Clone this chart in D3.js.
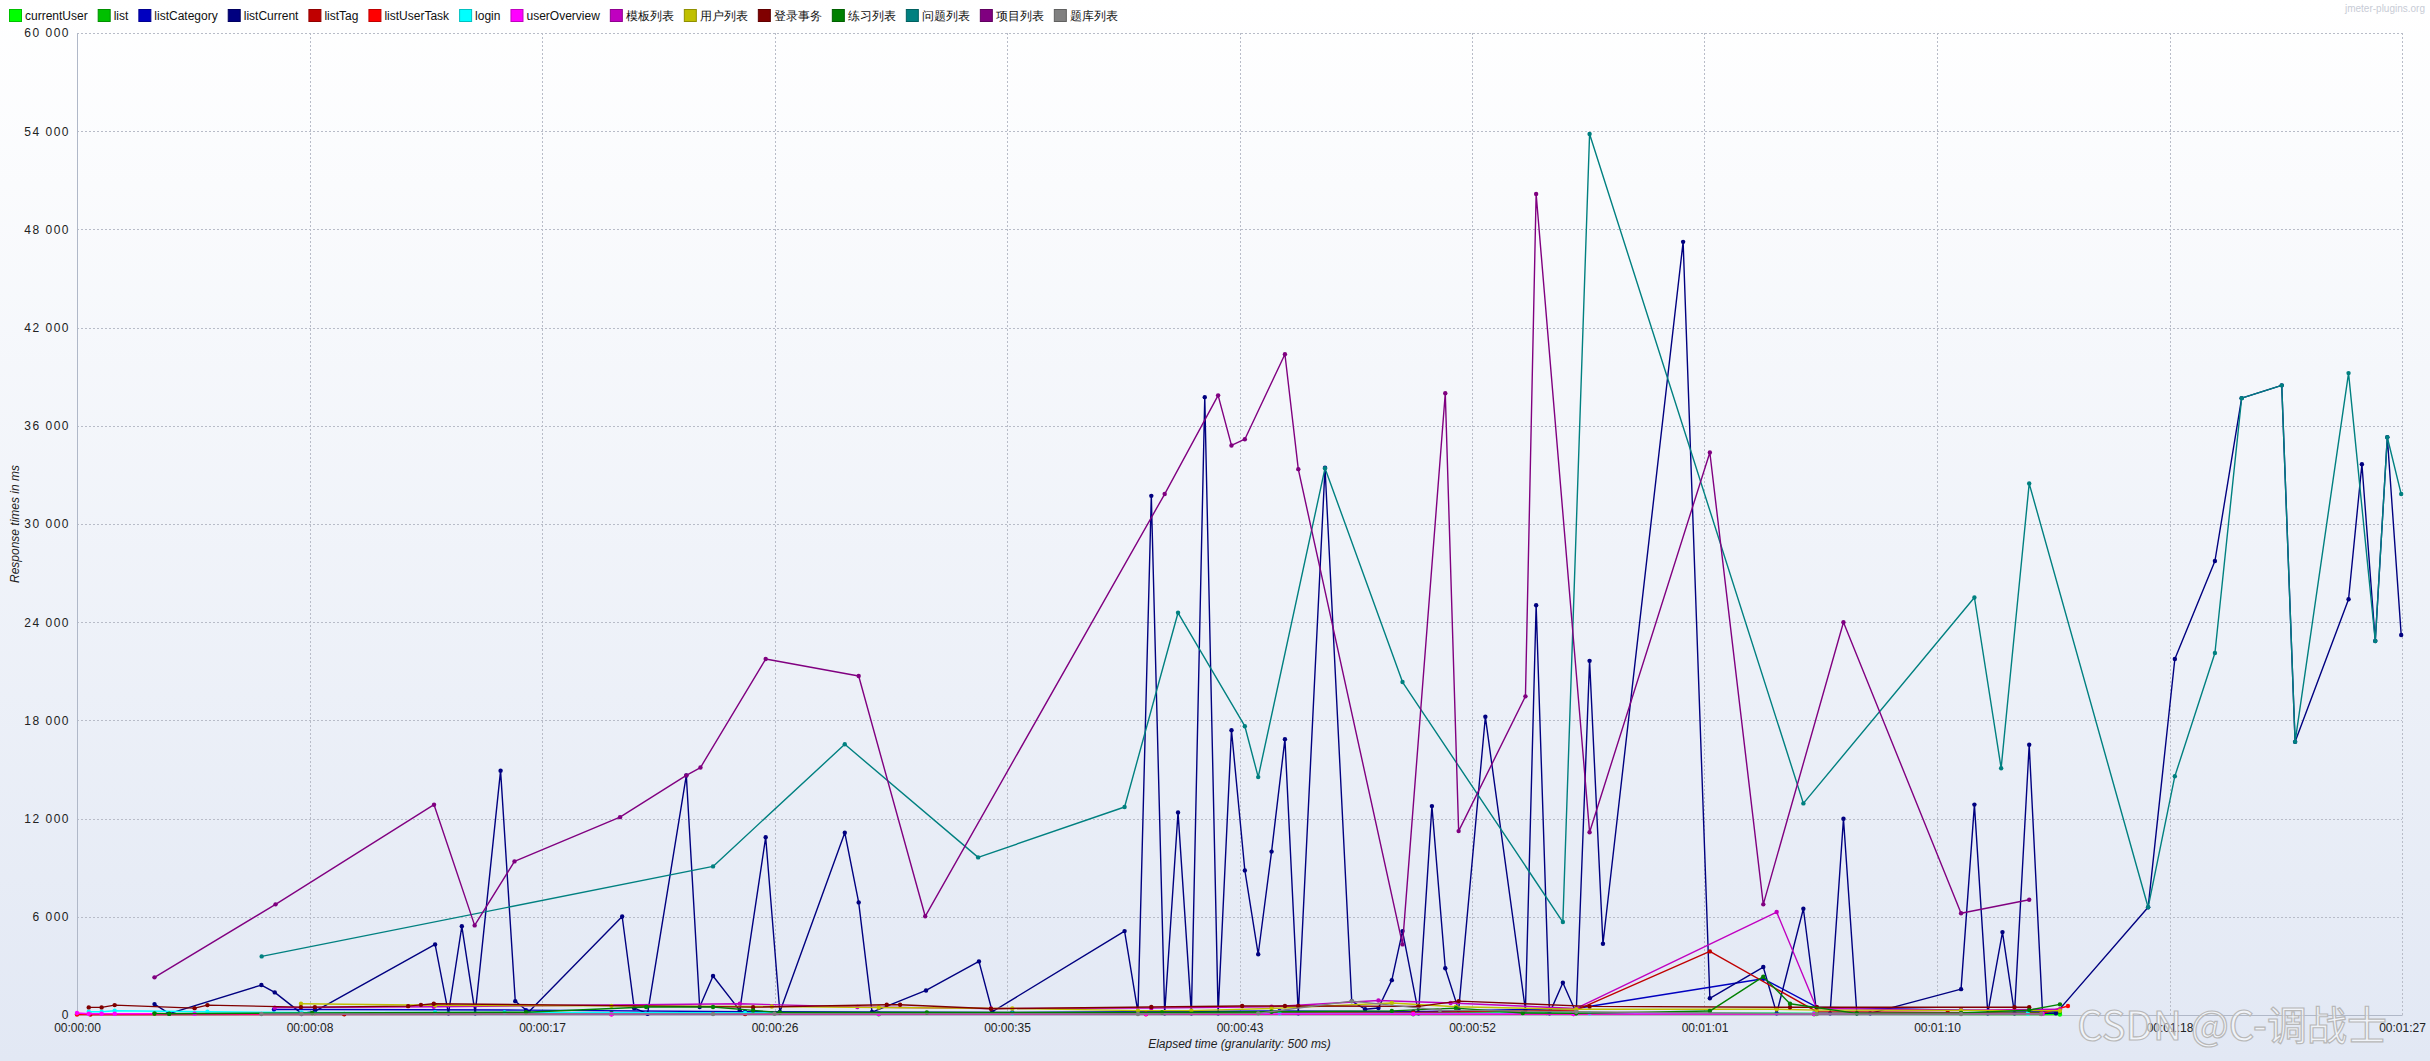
<!DOCTYPE html>
<html><head><meta charset="utf-8">
<script src="https://cdn.jsdelivr.net/npm/d3@7"></script>
<style>body{margin:0;overflow:hidden;background:#fff} svg{display:block}</style>
</head><body><svg id="c" width="2430" height="1061"></svg>
<script>
// ---------- DATA (time in seconds, response time in ms) ----------
const seriesNames = ["currentUser","list","listCategory","listCurrent","listTag","listUserTask","login","userOverview","模板列表","用户列表","登录事务","练习列表","问题列表","项目列表","题库列表"];
const seriesColors = ["#00FF00","#00C000","#0000C0","#000080","#C00000","#FF0000","#00FFFF","#FF00FF","#C000C0","#C0C000","#800000","#008000","#008080","#800080","#808080"];

const currentUser = [[0,60],[10,60],[30,50],[50,50],[65,50],[74.2,30]];
const list = [[2.9,80],[8.9,120],[20,140],[30,100],[45,150],[55,120],[65,100],[74.2,180]];
const listCategory = [[7.37,340],[8.9,340],[16.8,300],[25,200],[35,150],[45,250],[50,200],[56.1,400],[63.1,2215],[65.1,480],[70.5,300],[74.05,200]];
const listCurrent = [[2.9,666],[3.45,80],[6.9,1830],[7.4,1380],[8.4,100],[8.9,220],[13.4,4315],[13.9,100],[14.4,5420],[14.9,100],[15.85,14930],[16.4,845],[16.9,180],[20.4,6020],[20.85,420],[21.35,80],[22.8,14640],[23.3,485],[23.8,2380],[24.8,280],[25.77,10860],[26.3,180],[28.73,11140],[29.25,6880],[29.75,180],[31.77,1500],[33.75,3275],[34.25,200],[39.2,5126],[39.7,160],[40.2,31720],[40.7,100],[41.2,12380],[41.7,100],[42.2,37750],[42.7,100],[43.2,17400],[43.7,8835],[44.2,3710],[44.7,9985],[45.2,16855],[45.7,100],[46.7,33440],[47.7,845],[48.2,350],[48.7,430],[49.2,2130],[49.6,5126],[50.2,100],[50.7,12765],[51.2,2860],[51.7,300],[52.7,18220],[54.2,300],[54.6,25040],[55.1,100],[55.6,1970],[56.1,120],[56.6,21640],[57.1,4355],[60.1,47240],[61.1,1020],[63.1,2930],[63.6,100],[64.6,6490],[65.1,100],[65.6,100],[66.1,11990],[66.6,100],[67.1,100],[70.5,1580],[71.0,12855],[71.5,100],[72.05,5065],[72.5,100],[73.05,16510],[73.55,100],[74.05,100],[77.5,6580],[78.5,21750],[80.0,27740],[81.0,37690],[82.5,38470],[83.0,16690],[85.0,25400],[85.5,33650],[86.0,22850],[86.45,35300],[86.97,23220]];
const listTag = [[0.5,30],[10,40],[25,60],[40,100],[50,150],[56.1,300],[61.1,3885],[65.1,200],[70,150],[73.5,100]];
const listUserTask = [[0,30],[20,40],[40,50],[56,60],[65,80],[73.5,80],[74.5,550]];
const login = [[0.44,200],[0.92,200],[1.41,260],[4.88,200],[8.4,150],[13.4,150],[16,150],[25,120],[35,100],[45,100],[56.6,100],[65,90],[73,90]];
const userOverview = [[0,120],[0.44,80],[0.92,80],[1.41,80],[4.4,80],[8.4,60],[20,50],[30,60],[40,60],[50,60],[56,60],[65,60],[73.55,80]];
const templateList = [[7.4,450],[13.35,500],[24.8,690],[29.2,490],[34.2,400],[40.2,420],[44.7,500],[48.7,890],[51.4,730],[56.1,400],[63.6,6290],[65.1,400],[70.5,300],[74.2,350]];
const userList = [[8.38,690],[13.4,600],[20,560],[26,520],[30,460],[35,400],[39.7,270],[41.7,270],[44.7,400],[49.2,730],[51.6,500],[56.1,350],[63.6,350],[65.1,300],[70.5,280],[74.2,260]];
const loginTxn = [[0.44,465],[0.92,465],[1.41,605],[4.4,420],[4.88,605],[8.38,480],[8.9,480],[12.39,540],[12.87,620],[13.35,690],[25.3,480],[30.3,630],[30.8,630],[34.2,385],[40.2,490],[43.6,550],[45.2,550],[45.7,550],[50.2,530],[51.7,850],[56.6,525],[64.1,470],[65.1,470],[72.5,470],[73.05,470]];
const practiceList = [[2.9,100],[3.45,80],[8.8,120],[16.8,170],[21.3,490],[23.8,490],[25.3,280],[26.3,150],[31.8,150],[40.6,150],[44.7,200],[49.2,250],[51.6,420],[54.1,120],[56.1,100],[61.1,240],[63.1,2340],[64.1,690],[66.6,100],[70.5,120],[73.05,300],[74.2,650]];
const questionList = [[6.91,3580],[23.8,9080],[28.73,16540],[33.72,9630],[39.2,12710],[41.2,24575],[43.7,17645],[44.2,14535],[46.7,33410],[49.6,20345],[55.6,5680],[56.6,53830],[64.6,12930],[71.0,25510],[72.0,15080],[73.05,32470],[77.5,6580],[78.5,14590],[80.0,22120],[81.0,37690],[82.5,38470],[83.0,16690],[85.0,39220],[86.0,22850],[86.45,35300],[86.97,31830]];
const projectList = [[2.9,2300],[7.43,6760],[13.36,12850],[14.88,5475],[16.37,9385],[20.32,12090],[22.8,14640],[23.33,15120],[25.77,21750],[29.25,20710],[31.74,6030],[40.7,31830],[42.7,37860],[43.2,34800],[43.7,35180],[45.2,40370],[45.7,33350],[49.6,4315],[51.2,37990],[51.7,11235],[54.2,19470],[54.6,50160],[56.6,11170],[61.1,34370],[63.1,6760],[66.1,24000],[70.5,6220],[73.05,7045]];
const bankList = [[6.9,60],[8.4,60],[23.8,60],[26.1,80],[39.7,60],[44.2,100],[47.7,850],[51,300],[56.1,200],[65.1,60],[70.5,60],[73.5,60]];

const seriesValues = [currentUser,list,listCategory,listCurrent,listTag,listUserTask,login,userOverview,templateList,userList,loginTxn,practiceList,questionList,projectList,bankList];

const xTickSeconds = [0, 8.7, 17.4, 26.1, 34.8, 43.5, 52.2, 60.9, 69.6, 78.3, 87];
const xTickLabels = ["00:00:00","00:00:08","00:00:17","00:00:26","00:00:35","00:00:43","00:00:52","00:01:01","00:01:10","00:01:18","00:01:27"];
const yTickValues = [0,6000,12000,18000,24000,30000,36000,42000,48000,54000,60000];

// ---------- DRAW ----------
const W = 2430, H = 1061;
const M = {left:77, right:2402, top:33, bottom:1015};
const svg = d3.select("#c");
const defs = svg.append("defs");
const grad = defs.append("linearGradient").attr("id","bg").attr("x1",0).attr("y1",0).attr("x2",0).attr("y2",1);
grad.append("stop").attr("offset","0%").attr("stop-color","#FFFFFF");
grad.append("stop").attr("offset","100%").attr("stop-color","#E2E8F4");
svg.append("rect").attr("width",W).attr("height",H).attr("fill","url(#bg)");

const x = d3.scaleLinear().domain([0,87]).range([M.left,M.right]);
const y = d3.scaleLinear().domain([0,60000]).range([M.bottom,M.top]);

const font = "'Liberation Sans', Arial, sans-serif";

// grid
const grid = svg.append("g");
grid.selectAll("line.h").data(yTickValues.filter(d=>d>0)).join("line")
  .attr("x1",M.left).attr("x2",M.right).attr("y1",d=>Math.round(y(d))+0.5).attr("y2",d=>Math.round(y(d))+0.5)
  .attr("stroke","#B8BCC8").attr("stroke-dasharray","2,2").attr("stroke-width",1);
grid.selectAll("line.v").data(xTickSeconds.filter(d=>d>0)).join("line")
  .attr("y1",M.top).attr("y2",M.bottom).attr("x1",d=>Math.round(x(d))+0.5).attr("x2",d=>Math.round(x(d))+0.5)
  .attr("stroke","#B8BCC8").attr("stroke-dasharray","2,2").attr("stroke-width",1);

// axes
const loc = d3.formatLocale({decimal:".", thousands:" ", grouping:[3], currency:["",""]});
const fmt = loc.format(",d");
const yAxis = svg.append("g").attr("transform",`translate(${M.left},0)`)
  .call(d3.axisLeft(y).tickValues(yTickValues).tickFormat(fmt).tickSize(0).tickPadding(7));
yAxis.select(".domain").attr("stroke","#B0B8C8");
yAxis.selectAll("text").attr("font-family",font).attr("font-size",12).attr("fill","#222").attr("letter-spacing","1.5px");

const xAxis = svg.append("g").attr("transform",`translate(0,${M.bottom})`)
  .call(d3.axisBottom(x).tickValues(xTickSeconds).tickFormat((d,i)=>xTickLabels[i]).tickSize(0).tickPadding(8));
xAxis.select(".domain").attr("stroke","#B0B8C8");
xAxis.selectAll("text").attr("font-family",font).attr("font-size",12).attr("fill","#222");

svg.append("text").attr("x",(M.left+M.right)/2).attr("y",1048).attr("text-anchor","middle")
  .attr("font-family",font).attr("font-size",12).attr("font-style","italic").attr("fill","#222")
  .text("Elapsed time (granularity: 500 ms)");
svg.append("text").attr("transform",`translate(19,${(M.top+M.bottom)/2}) rotate(-90)`).attr("text-anchor","middle")
  .attr("font-family",font).attr("font-size",12).attr("font-style","italic").attr("fill","#222")
  .text("Response times in ms");

// series
const line = d3.line().x(d=>x(d[0])).y(d=>y(d[1]));
const plot = svg.append("g");
seriesValues.forEach((vals,i)=>{
  const g = plot.append("g");
  g.append("path").attr("d",line(vals)).attr("fill","none").attr("stroke",seriesColors[i]).attr("stroke-width",1.4).attr("stroke-linejoin","round");
  g.selectAll("circle").data(vals).join("circle").attr("cx",d=>x(d[0])).attr("cy",d=>y(d[1])).attr("r",2.2).attr("fill",seriesColors[i]);
});

// legend
const leg = svg.append("g").attr("transform","translate(9,0)");
let lx = 0;
seriesNames.forEach((n,i)=>{
  const c = d3.color(seriesColors[i]).darker(0.8);
  leg.append("rect").attr("x",lx+0.5).attr("y",9.5).attr("width",12).attr("height",12)
    .attr("fill",seriesColors[i]).attr("stroke",c.formatHex()).attr("stroke-width",1);
  const t = leg.append("text").attr("x",lx+16).attr("y",20).attr("font-family",font).attr("font-size",12).attr("fill","#111").text(n);
  lx += 16 + t.node().getComputedTextLength() + 10;
});

// watermark / site
svg.append("text").attr("x",2425).attr("y",12).attr("text-anchor","end").attr("font-family",font).attr("font-size",10).attr("fill","#C8CCD6").text("jmeter-plugins.org");
svg.append("text").attr("x",2387).attr("y",1040).attr("text-anchor","end").attr("font-family","'Noto Sans CJK SC', 'Liberation Sans', sans-serif").attr("font-size",40)
  .attr("fill","rgba(255,255,255,0.55)").attr("stroke","#B8B8B8").attr("stroke-width",1.2).text("CSDN @C-调战士");
</script></body></html>
